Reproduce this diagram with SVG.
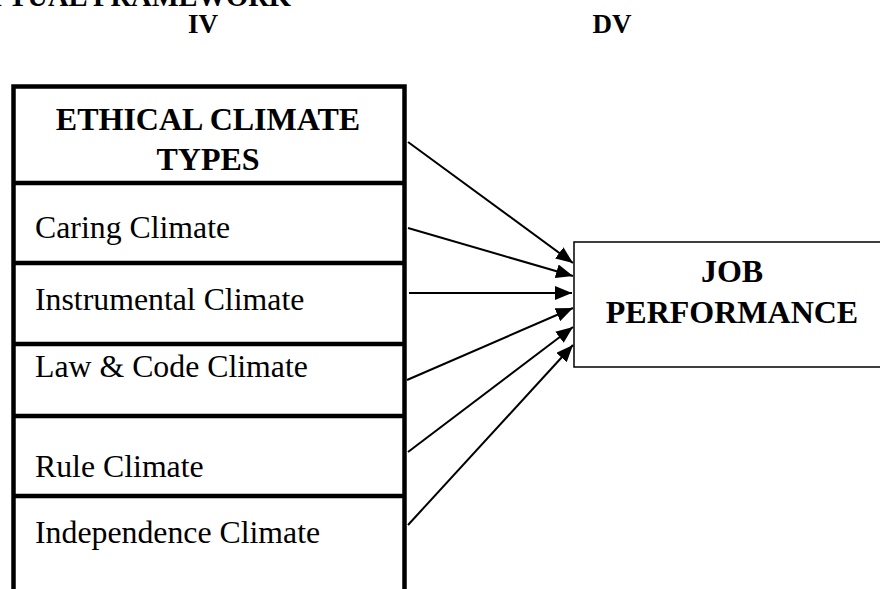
<svg xmlns="http://www.w3.org/2000/svg" width="880" height="589" viewBox="0 0 880 589">
<style>
.b{font-family:"Liberation Serif","Times New Roman",serif;font-weight:bold;fill:#000}
.r{font-family:"Liberation Serif","Times New Roman",serif;fill:#000;font-size:31.8px}
.div{stroke:#000;stroke-width:4.5;fill:none}
.con line{stroke:#000;stroke-width:2}
</style>
<defs>
<marker id="ah" markerUnits="userSpaceOnUse" markerWidth="18" markerHeight="14" refX="17" refY="7" orient="auto">
<path d="M0,0 L17,7 L0,14 Z" fill="#000"/>
</marker>
</defs>
<rect width="880" height="589" fill="#fff"/>
<text class="b" x="291" y="6" font-size="28.5" text-anchor="end">CONCEPTUAL FRAMEWORK</text>
<text class="b" x="203" y="33" font-size="27" text-anchor="middle">IV</text>
<text class="b" x="612" y="33" font-size="27" text-anchor="middle">DV</text>
<g id="ethical-climate-types">
<path class="div" d="M13.5,589 V86.5 H404.5 V589"/>
<line class="div" x1="13.5" y1="183" x2="404.5" y2="183"/>
<line class="div" x1="13.5" y1="263" x2="404.5" y2="263"/>
<line class="div" x1="13.5" y1="344" x2="404.5" y2="344"/>
<line class="div" x1="13.5" y1="416" x2="404.5" y2="416"/>
<line class="div" x1="13.5" y1="496" x2="404.5" y2="496"/>
<text class="b" x="208" y="130" font-size="32" text-anchor="middle">ETHICAL CLIMATE</text>
<text class="b" x="208" y="170" font-size="32" text-anchor="middle">TYPES</text>
</g>
<g id="caring"><text class="r" x="35" y="238">Caring Climate</text></g>
<g id="instrumental"><text class="r" x="35" y="310">Instrumental Climate</text></g>
<g id="law-code"><text class="r" x="35" y="377">Law &amp; Code Climate</text></g>
<g id="rule"><text class="r" x="35" y="477">Rule Climate</text></g>
<g id="independence"><text class="r" x="35" y="543">Independence Climate</text></g>
<g id="job-performance">
<rect x="574" y="242" width="320" height="125" fill="none" stroke="#000" stroke-width="1.5"/>
<text class="b" x="732" y="282" font-size="32" text-anchor="middle">JOB</text>
<text class="b" x="732" y="323" font-size="32" text-anchor="middle">PERFORMANCE</text>
</g>
<g class="con" id="connectors">
<line x1="408" y1="142" x2="573" y2="263" marker-end="url(#ah)"/>
<line x1="408" y1="228" x2="573" y2="276" marker-end="url(#ah)"/>
<line x1="409" y1="293" x2="572" y2="293" marker-end="url(#ah)"/>
<line x1="407" y1="380" x2="573" y2="308" marker-end="url(#ah)"/>
<line x1="408" y1="452" x2="573" y2="327" marker-end="url(#ah)"/>
<line x1="408" y1="525" x2="573" y2="345" marker-end="url(#ah)"/>
</g>
</svg>
